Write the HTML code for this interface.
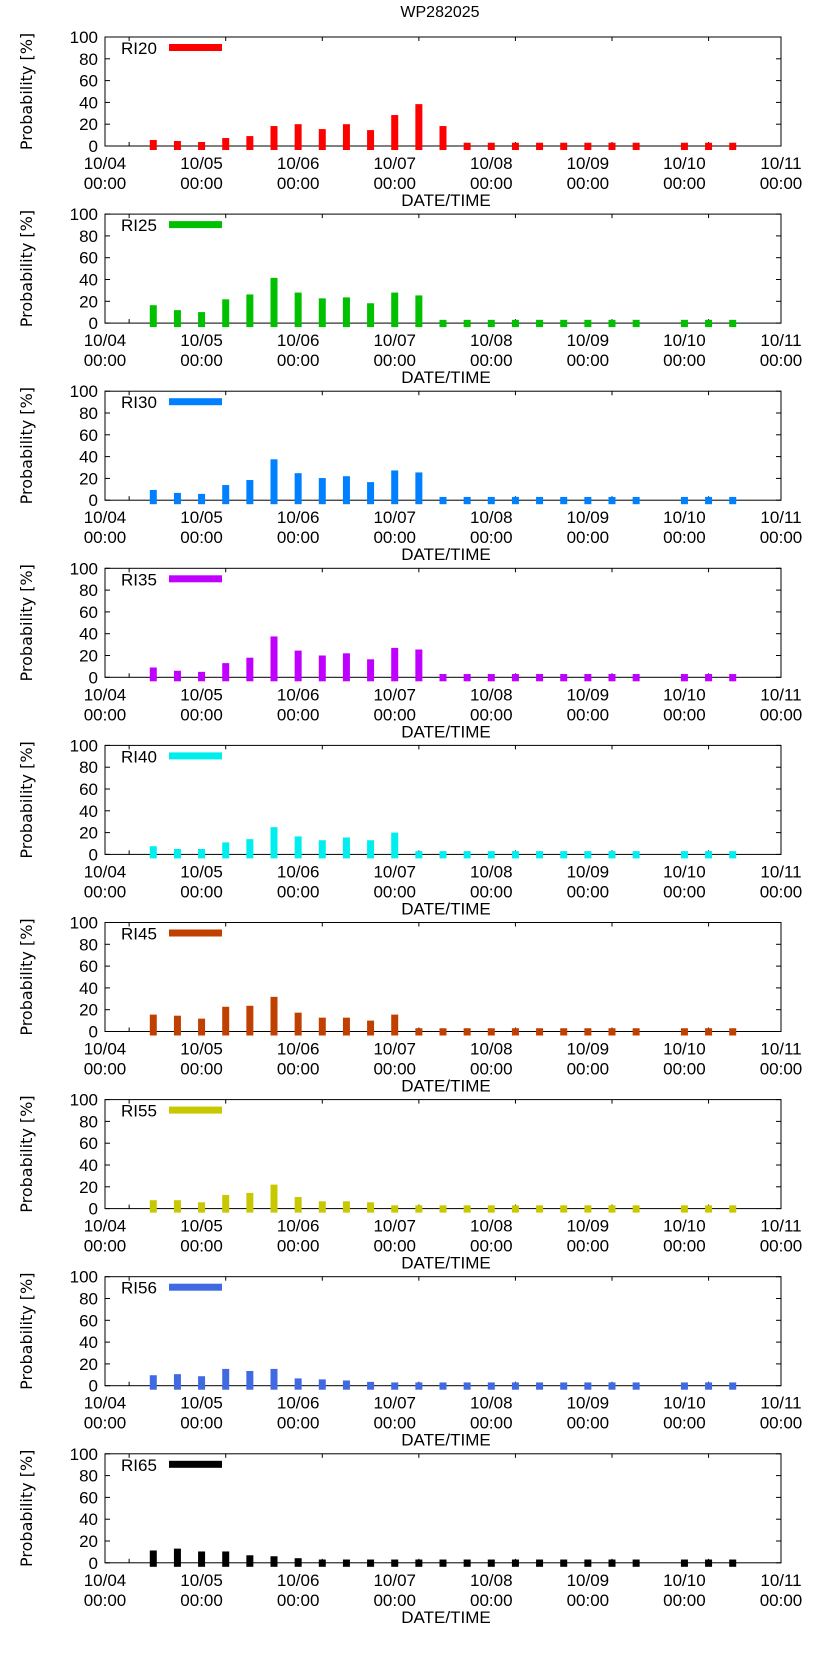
<!DOCTYPE html>
<html><head><meta charset="utf-8"><style>
html,body{margin:0;padding:0;background:#fff;}
svg{display:block;}
text{font-family:"Liberation Sans Narrow","Liberation Sans",sans-serif;fill:#000;}
</style></head>
<body>
<svg id="chart" width="822" height="1653" viewBox="0 0 822 1653" xmlns="http://www.w3.org/2000/svg">
<text x="440" y="17" font-size="16" text-anchor="middle">WP282025</text>
</svg>
<script>
// Bar times in days since 10/04 00:00 (6-hourly, 10/04 12:00 .. 10/10 12:00, 10/09 18:00 missing)
const times = [0.5,0.75,1,1.25,1.5,1.75,2,2.25,2.5,2.75,3,3.25,3.5,3.75,4,4.25,4.5,4.75,5,5.25,5.5,6,6.25,6.5];
const seriesNames = ["RI20","RI25","RI30","RI35","RI40","RI45","RI55","RI56","RI65"];
const seriesColors = ["#ff0000","#00c000","#0080ff","#c000ff","#00eeee","#c04000","#c8c800","#4169e1","#000000"];
const ri20 = [5.5,4.6,3.7,7.3,9.1,18.3,20,15.5,20,14.6,28.4,38.4,18.3,3,3,3,3,3,3,3,3,3,3,3];
const ri25 = [16.4,11.9,10.1,21.8,26.3,41.5,28,22.7,23.6,18.2,28,25.4,3,3,3,3,3,3,3,3,3,3,3,3];
const ri30 = [9.4,6.7,5.8,13.9,18.5,37.5,24.8,20.3,22,16.6,27.3,25.5,3,3,3,3,3,3,3,3,3,3,3,3];
const ri35 = [9,6,5,13,18,37.5,24.5,20,22,16.5,27,25.5,3,3,3,3,3,3,3,3,3,3,3,3];
const ri40 = [7.5,5,5,11,14,25,16.5,13,15.5,13,20,3,3,3,3,3,3,3,3,3,3,3,3,3];
const ri45 = [15.5,14.5,11.8,22.7,23.6,31.8,17.3,12.7,12.7,10,15.5,3,3,3,3,3,3,3,3,3,3,3,3,3];
const ri55 = [7.7,7.7,5.8,12.5,14.4,22,10.6,6.7,6.7,5.8,3,3,3,3,3,3,3,3,3,3,3,3,3,3];
const ri56 = [9.6,10.6,8.7,15.4,13.5,15.4,6.7,5.8,4.8,3.5,3,3,3,3,3,3,3,3,3,3,3,3,3,3];
const ri65 = [11.3,13,10.4,10.4,6.9,6,4.2,3,3,3,3,3,3,3,3,3,3,3,3,3,3,3,3,3];
const allSeries = [ri20,ri25,ri30,ri35,ri40,ri45,ri55,ri56,ri65];
const xTickLabels = ["10/04","10/05","10/06","10/07","10/08","10/09","10/10","10/11"];
const yTicks = [0,20,40,60,80,100];

const svg = document.getElementById('chart');
const NS = 'http://www.w3.org/2000/svg';
const L = 105, R = 781, H = 109;
const xScale = d => L + d * (R - L) / 7;
function mk(tag, attrs, parent) {
  const e = document.createElementNS(NS, tag);
  for (const k in attrs) e.setAttribute(k, attrs[k]);
  (parent || svg).appendChild(e);
  return e;
}
allSeries.forEach((vals, p) => {
  const top = 37 + 177.1 * p;
  const bottom = top + H;
  const yScale = v => bottom - v * H / 100;
  const g = mk('g', {});
  
  
  const frame = mk('rect', {x: L, y: top, width: R - L, height: H, fill: 'none', stroke: '#000', 'stroke-width': 1}, g);
  
  
  yTicks.forEach(t => {
    const y = yScale(t);
    mk('line', {x1: L, x2: L + 5, y1: y, y2: y, stroke: '#000'}, g);
    mk('line', {x1: R, x2: R - 5, y1: y, y2: y, stroke: '#000'}, g);
    const tx = mk('text', {x: 98, y: y + 6, 'font-size': 17, 'text-anchor': 'end'}, g);
    tx.textContent = t;
    
    
  });
  for (let k = 0; k < 7; k++) {
    const x = xScale(k + 0.25);
    mk('line', {x1: x, x2: x, y1: bottom, y2: bottom - 4, stroke: '#000'}, g);
    mk('line', {x1: x, x2: x, y1: top, y2: top + 4, stroke: '#000'}, g);
  }
  xTickLabels.forEach((lab, k) => {
    const x = xScale(k);
    const t1 = mk('text', {x: x, y: bottom + 23, 'font-size': 17, 'text-anchor': 'middle'}, g);
    t1.textContent = lab;
    
    
    const t2 = mk('text', {x: x, y: bottom + 43, 'font-size': 17, 'text-anchor': 'middle'}, g);
    t2.textContent = '00:00';
    
    
  });
  const xl = mk('text', {x: 446, y: bottom + 60, 'font-size': 17, 'text-anchor': 'middle'}, g);
  xl.textContent = 'DATE/TIME';
  
  
  const cy = top + H / 2;
  const yl = mk('text', {x: 0, y: 0, 'font-size': 16, 'text-anchor': 'middle', transform: `translate(32,${cy}) rotate(-90)`, style: 'font-family:"DejaVu Sans",sans-serif'}, g);
  yl.textContent = 'Probability [%]';
  
  
  vals.forEach((v, i) => {
    if (v === null) return;
    const x = xScale(times[i]);
    const b = mk('rect', {x: x - 3.5, y: yScale(v), width: 7, height: bottom - yScale(v) + 4, fill: seriesColors[p]}, g);
    
    
  });
  const lt = mk('text', {x: 121, y: top + 17, 'font-size': 17}, g);
  lt.textContent = seriesNames[p];
  
  
  const ll = mk('rect', {x: 169, y: top + 7, width: 53, height: 7, fill: seriesColors[p]}, g);
  
  
});
</script>
</body></html>
